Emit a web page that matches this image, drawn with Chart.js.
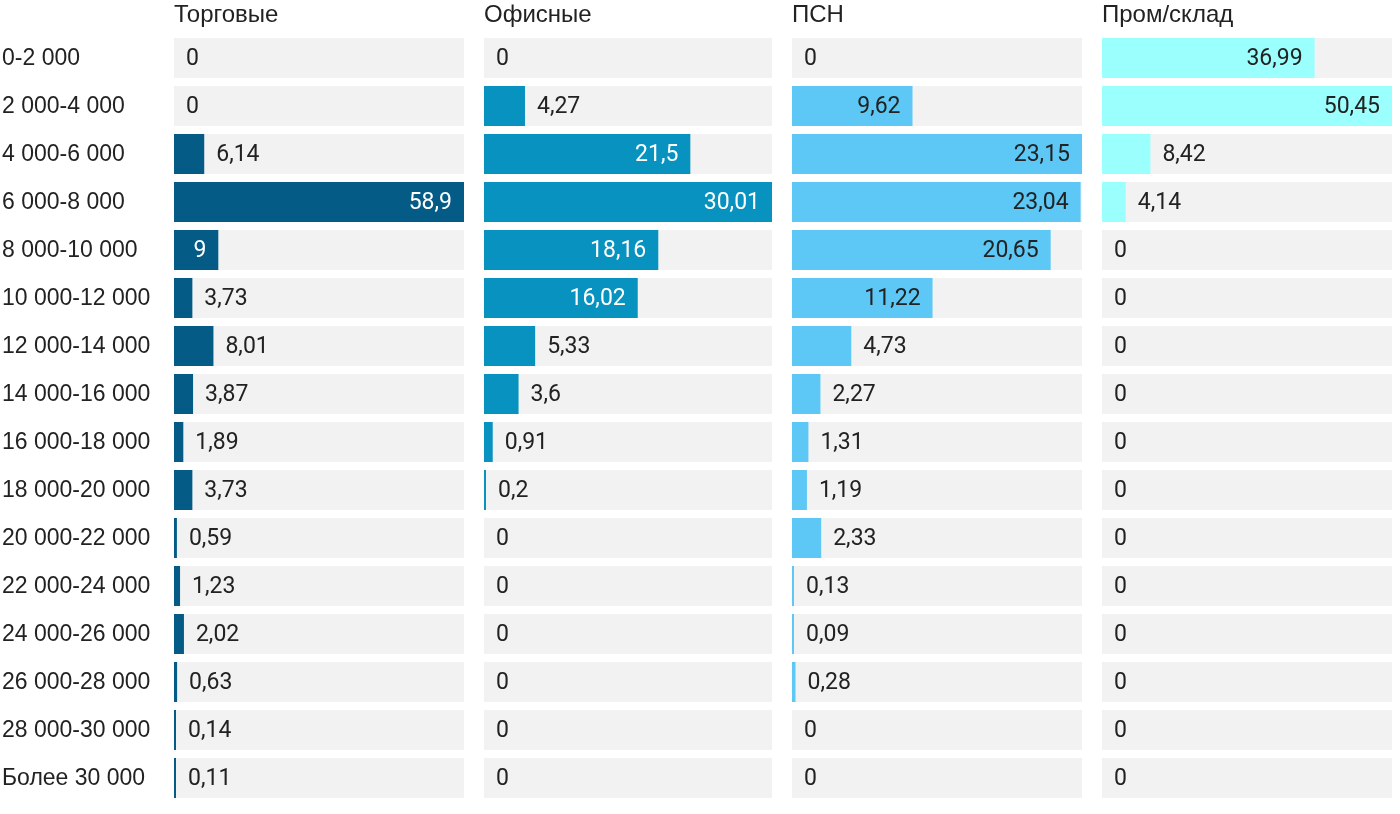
<!DOCTYPE html>
<html>
<head>
<meta charset="utf-8">
<script src="https://cdn.jsdelivr.net/npm/chart.js@4"></script>
<style>
  body { margin: 0; background: #fff; width: 1400px; height: 814px; overflow: hidden; position: relative; }
  .panel { position: absolute; top: 0; height: 814px; }
</style>
</head>
<body>
<div class="panel" style="left:0; width:464px;"><canvas id="c0"></canvas></div>
<div class="panel" style="left:484px; width:288px;"><canvas id="c1"></canvas></div>
<div class="panel" style="left:792px; width:290px;"><canvas id="c2"></canvas></div>
<div class="panel" style="left:1102px; width:290px;"><canvas id="c3"></canvas></div>
<script>
// Price bands (rub per m²), one row each
const categories = [
  "0-2 000", "2 000-4 000", "4 000-6 000", "6 000-8 000", "8 000-10 000",
  "10 000-12 000", "12 000-14 000", "14 000-16 000", "16 000-18 000", "18 000-20 000",
  "20 000-22 000", "22 000-24 000", "24 000-26 000", "26 000-28 000", "28 000-30 000",
  "Более 30 000",
];

// Share of listings, % per segment
const retail     = [0, 0, 6.14, 58.9, 9, 3.73, 8.01, 3.87, 1.89, 3.73, 0.59, 1.23, 2.02, 0.63, 0.14, 0.11];
const office     = [0, 4.27, 21.5, 30.01, 18.16, 16.02, 5.33, 3.6, 0.91, 0.2, 0, 0, 0, 0, 0, 0];
const psn        = [0, 9.62, 23.15, 23.04, 20.65, 11.22, 4.73, 2.27, 1.31, 1.19, 2.33, 0.13, 0.09, 0.28, 0, 0];
const industrial = [36.99, 50.45, 8.42, 4.14, 0, 0, 0, 0, 0, 0, 0, 0, 0, 0, 0, 0];

const titles = ["Торговые", "Офисные", "ПСН", "Пром/склад"];

const PANELS = [
  { id: "c0", title: titles[0], values: retail,     color: "#035b86", inside: "#ffffff", axis: true },
  { id: "c1", title: titles[1], values: office,     color: "#0792bf", inside: "#ffffff" },
  { id: "c2", title: titles[2], values: psn,        color: "#5dc7f5", inside: "#222222" },
  { id: "c3", title: titles[3], values: industrial, color: "#9bfffd", inside: "#222222" },
];

const VALUE_FONT = "23px Roboto";
const LABEL_FONT = "Liberation Sans";
const TEXT = "#222222";
const PAD = 12;

// ─────────────────── value labels + panel title ───────────────────
const labelPlugin = {
  id: "valueLabels",
  afterDatasetsDraw(chart, args, opts) {
    const { ctx, chartArea, scales: { x, y } } = chart;
    const meta = chart.getDatasetMeta(1);
    ctx.save();
    ctx.textBaseline = "middle";
    ctx.fillStyle = TEXT;
    ctx.textAlign = "left";
    ctx.font = `24px ${LABEL_FONT}`;
    ctx.fillText(opts.title, chartArea.left, 15);

    // category names, only on the first panel
    if (opts.axis) {
      ctx.font = `23px ${LABEL_FONT}`;
      categories.forEach((c, i) => ctx.fillText(c, 2, y.getPixelForValue(i) + 1));
    }

    ctx.font = VALUE_FONT;
    const base = x.getPixelForValue(0);
    opts.values.forEach((v, i) => {
      const txt = String(v).replace(".", ",");
      const w = ctx.measureText(txt).width;
      const cy = y.getPixelForValue(i);
      const end = v ? meta.data[i].x : base;
      if (end - base >= w + PAD * 2) {
        ctx.textAlign = "right";
        ctx.fillStyle = opts.inside;
        ctx.fillText(txt, end - PAD, cy + 1);
      } else {
        ctx.textAlign = "left";
        ctx.fillStyle = TEXT;
        ctx.fillText(txt, end + PAD, cy + 1);
      }
    });
    ctx.restore();
  },
};

PANELS.forEach(p => {
  const max = Math.max(...p.values);
  new Chart(document.getElementById(p.id), {
    type: "bar",
    data: {
      labels: categories,
      datasets: [{
        data: categories.map(() => max),
        backgroundColor: "#f2f2f2",
        grouped: false,
        order: 2,
        barPercentage: 40 / 48,
        categoryPercentage: 1,
      }, {
        data: p.values.map(v => v === 0 ? null : v),
        backgroundColor: p.color,
        grouped: false,
        order: 1,
        minBarLength: 2,
        barPercentage: 40 / 48,
        categoryPercentage: 1,
      }],
    },
    options: {
      indexAxis: "y",
      responsive: true,
      maintainAspectRatio: false,
      animation: false,
      events: [],
      layout: { padding: { top: 34, bottom: 12, left: p.axis ? 174 : 0, right: 0 } },
      plugins: {
        legend: { display: false },
        tooltip: { enabled: false },
        valueLabels: { title: p.title, values: p.values, inside: p.inside, axis: !!p.axis },
      },
      scales: {
        x: { display: false, min: 0, max: max },
        y: { display: false },
      },
    },
    plugins: [labelPlugin],
  });
});
</script>
</body>
</html>
